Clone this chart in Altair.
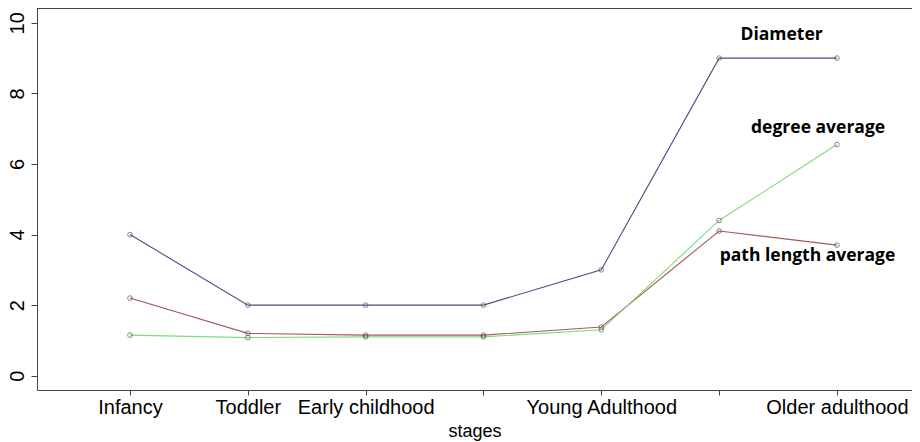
import json
import altair as alt
import pandas as pd

stage_pos = [1, 2, 3, 4, 5, 6, 7]
tick_labels = ["Infancy", "Toddler", "Early childhood", "", "Young Adulthood", "", "Older adulthood"]

diameter = [4, 2, 2, 2, 3, 9, 9]
path_length = [2.2, 1.2, 1.15, 1.15, 1.38, 4.1, 3.7]
degree_avg = [1.15, 1.08, 1.1, 1.1, 1.3, 4.4, 6.55]

series_names = ["Diameter", "path length average", "degree average"]
series_colors = ["#4c4c86", "#a85a55", "#7ddc7d"]

ann_text = ["Diameter", "degree average", "path length average"]
ann_x = [6.53, 6.84, 6.75]
ann_y = [9.65, 7.02, 3.39]

rows = []
for name, vals in zip(series_names, [diameter, path_length, degree_avg]):
    for xv, yv in zip(stage_pos, vals):
        rows.append({"stage": xv, "value": yv, "series": name})
df = pd.DataFrame(rows)
ann = pd.DataFrame({"text": ann_text, "x": ann_x, "y": ann_y})

xdom = [0.2107, 7.637]
ydom = [-0.405, 10.42]
label_expr = json.dumps(tick_labels) + "[datum.value - 1]"

xaxis = alt.Axis(values=stage_pos, labelExpr=label_expr, title="stages",
                 labelFont="Liberation Sans", labelFontSize=20, labelColor="black",
                 titleFont="Liberation Sans", titleFontSize=18, titleFontWeight="normal",
                 titleColor="black", tickSize=5, tickColor="#444", domainColor="#444",
                 labelPadding=2, titlePadding=5, grid=False, labelFlush=False,
                 labelOverlap=False)
yaxis = alt.Axis(values=[0, 2, 4, 6, 8, 10], title=None, labelAngle=270,
                 labelAlign="center", labelBaseline="bottom",
                 labelFont="Liberation Sans", labelFontSize=20, labelColor="black",
                 tickSize=6, tickColor="#444", domainColor="#444", labelPadding=4,
                 grid=False)

xs = alt.Scale(domain=xdom, nice=False, zero=False)
ys = alt.Scale(domain=ydom, nice=False, zero=False)
cs = alt.Scale(domain=series_names, range=series_colors)

W, H = 875, 382

base = alt.Chart(df)
lines = base.mark_line(strokeWidth=1.1, clip=True).encode(
    x=alt.X("stage:Q", scale=xs, axis=xaxis),
    y=alt.Y("value:Q", scale=ys, axis=yaxis),
    color=alt.Color("series:N", scale=cs, legend=None),
    detail="series:N",
)
points = base.mark_point(shape="circle", size=22, filled=False, color="#444",
                         strokeWidth=0.9).encode(
    x=alt.X("stage:Q", scale=xs, axis=xaxis),
    y=alt.Y("value:Q", scale=ys, axis=yaxis),
)
labels = alt.Chart(ann).mark_text(font="Open Sans", fontWeight="bold", fontSize=17.5,
                                  color="black", align="center", baseline="middle").encode(
    x=alt.X("x:Q", scale=xs, axis=xaxis),
    y=alt.Y("y:Q", scale=ys, axis=yaxis),
    text="text:N",
)
topframe = alt.Chart(ann).mark_rule(color="#444", strokeWidth=1).encode(
    x=alt.value(0), x2=alt.value(W), y=alt.value(0.5),
)

chart = alt.layer(lines, points, labels, topframe).properties(
    width=W, height=H,
    autosize=alt.AutoSizeParams(type="none"),
    padding={"left": 29, "top": 0, "right": 0, "bottom": 52},
    background="white",
).configure_view(stroke=None)

chart.save("out.html", embed_options={"renderer": "svg", "actions": False})
